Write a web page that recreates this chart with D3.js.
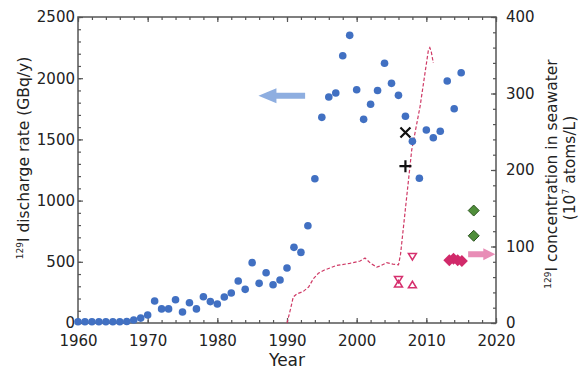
<!DOCTYPE html>
<html>
<head>
<meta charset="utf-8">
<script src="https://cdn.jsdelivr.net/npm/d3@7"></script>
<style>
  body { margin: 0; background: #fff; }
  text { font-family: "DejaVu Sans", sans-serif; fill: #222; }
</style>
</head>
<body>
<div id="container"></div>
<script>
// discharge rate, GBq/y (left axis)
var years = d3.range(1960, 2016);
var discharge = [10, 10, 10, 10, 10, 10, 10, 12, 25, 40,
                 65, 180, 115, 115, 190, 90, 165, 115, 215, 175,
                 155, 212, 245, 343, 275, 493, 324, 411, 313, 351,
                 449, 618, 577, 795, 1179, 1680, 1846, 1879, 2184, 2350,
                 1906, 1664, 1787, 1900, 2122, 1958, 1860, 1689, 1484, 1182,
                 1577, 1514, 1566, 1977, 1751, 2045];

// seawater concentration, 10^7 atoms/L (right axis)
var lineYears = [1990, 1990.5, 1990.9, 1991.4, 1992.3, 1993.1, 1993.8, 1994.5, 1995.3, 1996.2,
                 1997, 1999, 2000.5, 2001.2, 2002, 2002.9, 2003.5, 2004.3, 2005.2, 2006,
                 2006.3, 2007.9, 2009.1, 2010.3, 2010.5, 2010.7, 2011];
var lineConc = [0, 18, 34, 38, 41, 47, 58, 65, 69, 72,
                75, 78, 81, 85, 78, 73, 75, 79, 77, 76,
                90, 226, 283, 357, 360, 355, 340];

var crossPt = {year: 2007, v: 249};
var plusPt = {year: 2007, v: 205};
var downTri = [{year: 2006, v: 57}, {year: 2008, v: 87}];
var upTri = [{year: 2006, v: 51}, {year: 2008, v: 50}];
var pinkDiamonds = [{year: 2013.3, v: 82}, {year: 2013.9, v: 84}, {year: 2014.5, v: 82}, {year: 2015.1, v: 81}];
var greenDiamonds = [{year: 2016.8, v: 147}, {year: 2016.8, v: 114}];

var leftTicks = [0, 500, 1000, 1500, 2000, 2500];
var rightTicks = [0, 100, 200, 300, 400];
var yearTicks = [1960, 1970, 1980, 1990, 2000, 2010, 2020];

var W = 579, H = 372;
var plot = {left: 78, right: 496, top: 17, bottom: 323};

var svg = d3.select("#container").append("svg")
    .attr("width", W).attr("height", H);

var x = d3.scaleLinear().domain([1960, 2020]).range([plot.left, plot.right]);
var yL = d3.scaleLinear().domain([0, 2500]).range([plot.bottom, plot.top]);
var yR = d3.scaleLinear().domain([0, 400]).range([plot.bottom, plot.top]);

var axisColor = "#555";

// tick marks, all pointing inward
function ticks(axis, tr, vals, size) {
  var g = svg.append("g").attr("transform", tr)
    .call(axis.tickValues(vals).tickSize(size).tickFormat(""));
  g.select(".domain").remove();
  g.selectAll("line").attr("stroke", axisColor).attr("stroke-width", 1.2);
}
ticks(d3.axisLeft(yL), "translate(" + plot.left + ",0)", d3.range(0, 2501, 100), -3);
ticks(d3.axisRight(yR), "translate(" + plot.right + ",0)", d3.range(0, 401, 20), -3);
ticks(d3.axisBottom(x), "translate(0," + plot.bottom + ")", d3.range(1960, 2021, 2), -3);
ticks(d3.axisTop(x), "translate(0," + plot.top + ")", d3.range(1960, 2021, 2), -3);
ticks(d3.axisLeft(yL), "translate(" + plot.left + ",0)", leftTicks, -5);
ticks(d3.axisRight(yR), "translate(" + plot.right + ",0)", rightTicks, -5);
ticks(d3.axisBottom(x), "translate(0," + plot.bottom + ")", yearTicks, -5);
ticks(d3.axisTop(x), "translate(0," + plot.top + ")", yearTicks, -5);

// frame
svg.append("rect")
  .attr("x", plot.left).attr("y", plot.top)
  .attr("width", plot.right - plot.left).attr("height", plot.bottom - plot.top)
  .attr("fill", "none").attr("stroke", axisColor).attr("stroke-width", 1.5);

// tick labels
function labels(axis, tr, pad) {
  var g = svg.append("g").attr("transform", tr)
    .call(axis.tickSize(0).tickPadding(pad));
  g.select(".domain").remove();
  g.selectAll("text").style("font-size", "15px").attr("fill", "#222")
    .style("font-family", "DejaVu Sans");
  return g;
}
labels(d3.axisLeft(yL).tickValues(leftTicks).tickFormat(d3.format("d")), "translate(" + plot.left + ",0)", 3);
labels(d3.axisRight(yR).tickValues(rightTicks).tickFormat(d3.format("d")), "translate(" + plot.right + ",0)", 10);
labels(d3.axisBottom(x).tickValues(yearTicks).tickFormat(d3.format("d")), "translate(0," + plot.bottom + ")", 12);

// axis titles
svg.append("text")
  .attr("x", (plot.left + plot.right) / 2).attr("y", 366)
  .attr("text-anchor", "middle").style("font-size", "17px")
  .text("Year");

var lt = svg.append("text")
  .attr("transform", "translate(29,158) rotate(-90)")
  .attr("text-anchor", "middle").style("font-size", "15.5px");
lt.append("tspan").attr("dy", "-6").style("font-size", "9px").text("129");
lt.append("tspan").attr("dy", "6").text("I discharge rate (GBq/y)");

var rt1 = svg.append("text")
  .attr("transform", "translate(557,174) rotate(-90)")
  .attr("text-anchor", "middle").style("font-size", "15.5px");
rt1.append("tspan").attr("dy", "-6").style("font-size", "9px").text("129");
rt1.append("tspan").attr("dy", "6").text("I concentration in seawater");

var rt2 = svg.append("text")
  .attr("transform", "translate(575,168) rotate(-90)")
  .attr("text-anchor", "middle").style("font-size", "15.5px");
rt2.append("tspan").text("(10");
rt2.append("tspan").attr("dy", "-6").style("font-size", "9px").text("7");
rt2.append("tspan").attr("dy", "6").text(" atoms/L)");

var magenta = "#d6306e";

// dashed concentration line
var lineData = lineYears.map(function(d, i) { return [d, lineConc[i]]; });
svg.append("path")
  .datum(lineData)
  .attr("d", d3.line().x(function(d) { return x(d[0]); }).y(function(d) { return yR(d[1]); }))
  .attr("fill", "none").attr("stroke", "#cf3a66").attr("stroke-width", 1.2)
  .attr("stroke-dasharray", "3.5,2");

// blue discharge points
svg.selectAll(".dot")
  .data(discharge)
  .enter().append("circle")
  .attr("class", "dot")
  .attr("cx", function(d, i) { return x(years[i]); })
  .attr("cy", function(d) { return yL(d); })
  .attr("r", 3.8)
  .attr("fill", "#4170c2");

// x and + markers
svg.append("path")
  .attr("transform", "translate(" + x(crossPt.year) + "," + yR(crossPt.v) + ")")
  .attr("d", "M-5,-5L5,5M-5,5L5,-5")
  .attr("stroke", "#111").attr("stroke-width", 2.2);
svg.append("path")
  .attr("transform", "translate(" + x(plusPt.year) + "," + yR(plusPt.v) + ")")
  .attr("d", "M-6,0L6,0M0,-6L0,6")
  .attr("stroke", "#111").attr("stroke-width", 2.2);

// open triangles
svg.selectAll(".tdown")
  .data(downTri)
  .enter().append("path")
  .attr("transform", function(d) { return "translate(" + x(d.year) + "," + yR(d.v) + ")"; })
  .attr("d", "M-4,-3L4,-3L0,3.5Z")
  .attr("fill", "none").attr("stroke", magenta).attr("stroke-width", 1.5);
svg.selectAll(".tup")
  .data(upTri)
  .enter().append("path")
  .attr("transform", function(d) { return "translate(" + x(d.year) + "," + yR(d.v) + ")"; })
  .attr("d", "M-4,3L4,3L0,-3.5Z")
  .attr("fill", "none").attr("stroke", magenta).attr("stroke-width", 1.5);

// diamonds
svg.selectAll(".pd")
  .data(pinkDiamonds)
  .enter().append("path")
  .attr("transform", function(d) { return "translate(" + x(d.year) + "," + yR(d.v) + ")"; })
  .attr("d", "M0,-6L6,0L0,6L-6,0Z")
  .attr("fill", "#d12a6a");
svg.selectAll(".gd")
  .data(greenDiamonds)
  .enter().append("path")
  .attr("transform", function(d) { return "translate(" + x(d.year) + "," + yR(d.v) + ")"; })
  .attr("d", "M0,-5.5L5.5,0L0,5.5L-5.5,0Z")
  .attr("fill", "#4f8e3a").attr("stroke", "#2c5420").attr("stroke-width", 1);

// arrows showing which axis applies
function arrow(x0, x1, y, headLen, headH, bodyH, color) {
  var dir = x1 > x0 ? 1 : -1;
  var hb = x1 - dir * headLen;
  var pts = [[x0, y - bodyH], [hb, y - bodyH], [hb, y - headH], [x1, y],
             [hb, y + headH], [hb, y + bodyH], [x0, y + bodyH]];
  svg.append("path").attr("d", "M" + pts.join("L") + "Z").attr("fill", color);
}
arrow(x(1992.6), x(1985.9), yL(1857), 18, 7.5, 3, "#8eaee0");
arrow(x(2016), x(2019.9), yR(90), 12, 6, 3, "#e88db6");
</script>
</body>
</html>
